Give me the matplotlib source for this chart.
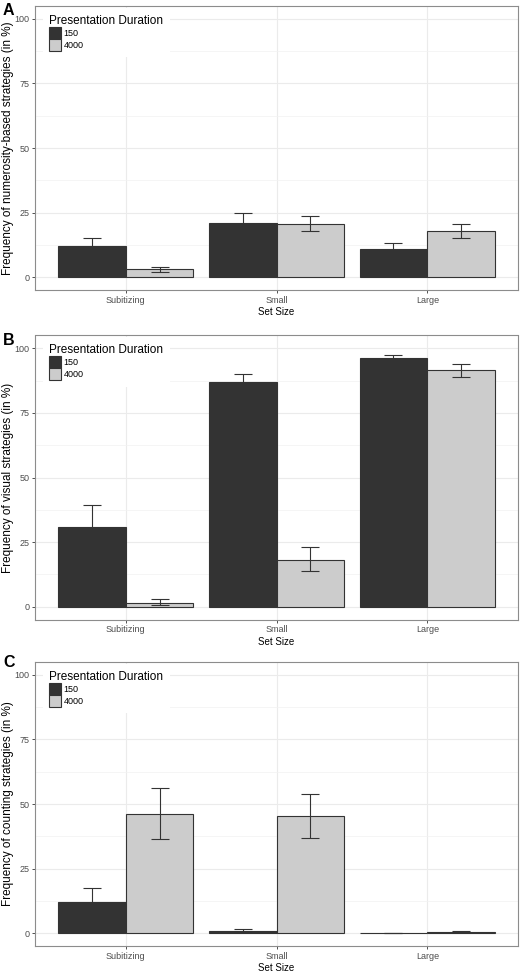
import matplotlib
matplotlib.use('Agg')

from matplotlib import rc
rc('font', family=['Liberation Sans', 'DejaVu Sans'], size=7)

from matplotlib import pyplot as plt
import numpy as np

###############################################################################
# Data

categories = ['Subitizing', 'Small', 'Large']
durations = ['150', '4000']
panel_letters = ['A', 'B', 'C']
ylabels = ['Frequency of numerosity-based strategies (in %)',
           'Frequency of visual strategies (in %)',
           'Frequency of counting strategies (in %)']

# numerosity-based
num_150 = [12.2, 21.1, 10.7]
num_150_lo = [9.7, 17.9, 9.0]
num_150_hi = [15.3, 24.7, 13.1]
num_4000 = [3.1, 20.6, 17.7]
num_4000_lo = [1.9, 17.7, 15.1]
num_4000_hi = [4.1, 23.8, 20.5]

# visual
vis_150 = [30.7, 86.8, 96.3]
vis_150_lo = [23.2, 82.8, 95.0]
vis_150_hi = [39.4, 90.2, 97.4]
vis_4000 = [1.5, 18.1, 91.7]
vis_4000_lo = [0.8, 13.9, 89.0]
vis_4000_hi = [2.8, 23.1, 93.9]

# counting
cnt_150 = [11.9, 0.9, 0.0]
cnt_150_lo = [8.0, 0.5, 0.0]
cnt_150_hi = [17.3, 1.5, 0.0]
cnt_4000 = [46.1, 45.2, 0.5]
cnt_4000_lo = [36.5, 36.8, 0.3]
cnt_4000_hi = [56.1, 53.9, 0.8]

panels = [
    ((num_150, num_150_lo, num_150_hi), (num_4000, num_4000_lo, num_4000_hi)),
    ((vis_150, vis_150_lo, vis_150_hi), (vis_4000, vis_4000_lo, vis_4000_hi)),
    ((cnt_150, cnt_150_lo, cnt_150_hi), (cnt_4000, cnt_4000_lo, cnt_4000_hi)),
]

###############################################################################
# Plot

W, H = 520, 973
fig = plt.figure(figsize=(W / 100., H / 100.), dpi=100)

fills = ['#333333', '#CCCCCC']
bar_w = 0.45
x = np.arange(1, len(categories) + 1)

# axes boxes in pixels: (left, top, right, bottom)
boxes = [(35, 6, 518, 290), (35, 335.5, 518, 619.5), (35, 662, 518, 946)]
letter_y = [3, 333, 655]

for k, (box, series) in enumerate(zip(boxes, panels)):
    l, t, r, b = box
    ax = fig.add_axes([l / W, 1 - b / H, (r - l) / W, (b - t) / H])

    bars = []
    for j, (mean, lo, hi) in enumerate(series):
        mean = np.array(mean)
        pos = x + (j - 0.5) * bar_w
        br = ax.bar(pos, mean, width=bar_w, color=fills[j], edgecolor='#333333',
                    linewidth=0.8, zorder=2, label=durations[j])
        bars.append(br)
        yerr = [mean - np.array(lo), np.array(hi) - mean]
        ax.errorbar(pos, mean, yerr=yerr, fmt='none', ecolor='#333333',
                    elinewidth=0.8, capsize=6.5, capthick=0.8, zorder=3)

    ax.set_xlim(0.4, 3.6)
    ax.set_ylim(-5, 105)
    ax.set_xticks(x)
    ax.set_xticklabels(categories)
    ax.set_yticks(np.arange(0, 101, 25))
    ax.set_yticks(np.arange(12.5, 100, 25), minor=True)
    ax.grid(True, which='major', color='#EBEBEB', linewidth=0.8, zorder=0)
    ax.grid(True, which='minor', axis='y', color='#F2F2F2', linewidth=0.5, zorder=0)
    ax.set_axisbelow(True)
    ax.tick_params(which='major', length=2.5, width=0.6, color='#333333',
                   labelcolor='#4D4D4D', labelsize=6.5, pad=1.5)
    ax.tick_params(which='minor', length=0)
    for sp in ax.spines.values():
        sp.set_color('#8C8C8C')
        sp.set_linewidth(0.8)

    ax.set_xlabel('Set Size', fontsize=7, labelpad=2)
    ax.set_ylabel(ylabels[k], fontsize=8.5)
    ax.yaxis.set_label_coords(-0.0425, 0.5)

    leg = ax.legend(handles=bars, title='Presentation Duration', loc='upper left',
                    bbox_to_anchor=(0.012, 1.0), fontsize=6.5, title_fontsize=8.5,
                    frameon=True, fancybox=False, edgecolor='none', facecolor='white',
                    framealpha=1.0, handlelength=1.3, handleheight=1.67,
                    handletextpad=0.25, labelspacing=0.0, borderpad=0.75,
                    borderaxespad=0.2)
    leg._legend_box.align = 'left'
    leg.set_zorder(5)

    fig.text(3 / W, 1 - letter_y[k] / H, panel_letters[k], fontsize=11.5,
             fontweight='bold', va='top', ha='left')

fig.savefig('out.png', dpi=100)
